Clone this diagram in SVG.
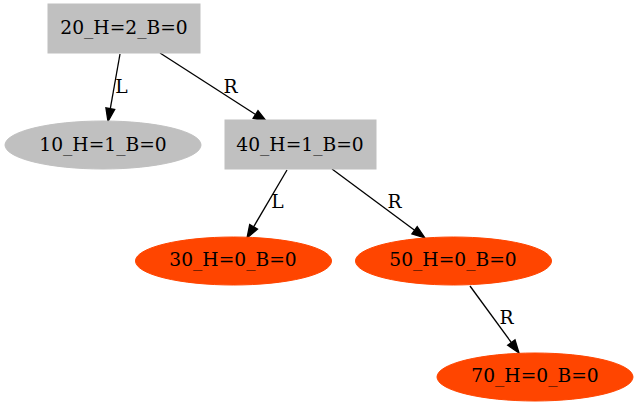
<svg xmlns="http://www.w3.org/2000/svg" width="639" height="407" viewBox="0 0 639 407">
<style>
text{font-family:"DejaVu Serif","Liberation Serif",serif;font-size:18.67px;fill:#000;text-anchor:middle}
.g{fill:#c0c0c0;stroke:#c0c0c0}
.o{fill:#ff4500;stroke:#ff4500}
.e line{stroke:#000;stroke-width:1.3}
.e polygon{fill:#000;stroke:#000;stroke-width:1.3}
</style>
<rect width="639" height="407" fill="#fff"/>
<g id="edges" class="e">
<g id="e20_10"><line x1="120" y1="54" x2="110.3" y2="108.7"/><polygon points="108,121.5 114.7,109.5 105.9,107.9"/><text x="121.5" y="93">L</text></g>
<g id="e20_40"><line x1="160" y1="53" x2="255.6" y2="114.5"/><polygon points="266.5,121.5 253.1,118.3 258,110.7"/><text x="230.5" y="92.5">R</text></g>
<g id="e40_30"><line x1="287" y1="170" x2="253.6" y2="226.8"/><polygon points="247,238 257.5,229.1 249.7,224.5"/><text x="277.5" y="208">L</text></g>
<g id="e40_50"><line x1="332" y1="169" x2="414.6" y2="230.3"/><polygon points="425,238 411.9,233.9 417.2,226.6"/><text x="394.5" y="208">R</text></g>
<g id="e50_70"><line x1="470" y1="286" x2="511.3" y2="342.5"/><polygon points="519,353 507.7,345.2 515,339.9"/><text x="506.5" y="324">R</text></g>
</g>
<g id="n20"><rect class="g" x="48" y="4" width="152" height="49"/><text x="124" y="34">20_H=2_B=0</text></g>
<g id="n10"><ellipse class="g" cx="103" cy="145" rx="98" ry="24"/><text x="103" y="150.5">10_H=1_B=0</text></g>
<g id="n40"><rect class="g" x="225" y="120" width="151" height="49"/><text x="300" y="150.5">40_H=1_B=0</text></g>
<g id="n30"><ellipse class="o" cx="233.5" cy="261" rx="98" ry="24"/><text x="233" y="266">30_H=0_B=0</text></g>
<g id="n50"><ellipse class="o" cx="453.5" cy="261" rx="98" ry="24"/><text x="453" y="266">50_H=0_B=0</text></g>
<g id="n70"><ellipse class="o" cx="535" cy="377" rx="98" ry="24"/><text x="535" y="382">70_H=0_B=0</text></g>
</svg>
